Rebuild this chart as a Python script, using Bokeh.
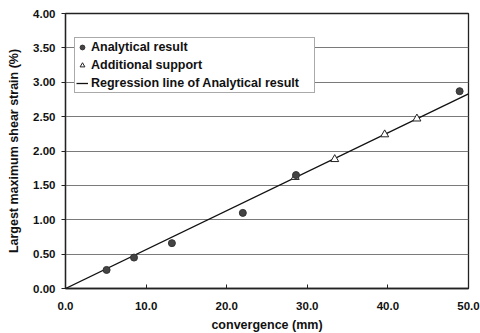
from bokeh.plotting import figure
from bokeh.models import Range1d, PrintfTickFormatter, FixedTicker, Legend, LegendItem
from bokeh.embed import file_html
from bokeh.resources import INLINE

analytical_x = [5.1, 8.5, 13.2, 22.0, 28.6, 48.9]
analytical_y = [0.27, 0.45, 0.66, 1.10, 1.65, 2.87]
support_x = [28.5, 33.4, 39.6, 43.6]
support_y = [1.62, 1.88, 2.24, 2.47]
regression_x = [0.0, 50.0]
regression_y = [0.0, 2.83]

FONT = "Liberation Sans"

p = figure(frame_width=403, frame_height=275, min_border_left=65, min_border_top=13,
           min_border_right=12, min_border_bottom=45,
           output_backend="svg", toolbar_location=None,
           x_range=Range1d(0, 50), y_range=Range1d(0, 4))
p.outline_line_color = "#222222"
p.outline_line_width = 1.3
p.background_fill_color = "white"
p.xgrid.grid_line_color = None
p.ygrid.grid_line_color = "#7a7a7a"
p.ygrid.grid_line_width = 1

p.xaxis.ticker = FixedTicker(ticks=[0, 10, 20, 30, 40, 50])
p.yaxis.ticker = FixedTicker(ticks=[0, 0.5, 1, 1.5, 2, 2.5, 3, 3.5, 4])
p.xaxis.formatter = PrintfTickFormatter(format="%.1f")
p.yaxis.formatter = PrintfTickFormatter(format="%.2f")
for ax in (p.xaxis[0], p.yaxis[0]):
    ax.axis_line_color = "#222222"
    ax.axis_line_width = 1.3
    ax.major_tick_line_color = "#222222"
    ax.minor_tick_line_color = None
    ax.major_label_text_font = FONT
    ax.major_label_text_font_size = "11.5px"
    ax.major_label_text_font_style = "bold"
    ax.major_label_text_color = "#111111"
    ax.axis_label_text_font = FONT
    ax.axis_label_text_font_size = "12.5px"
    ax.axis_label_text_font_style = "bold"
    ax.axis_label_text_color = "#111111"
p.xaxis.major_tick_in = 4
p.xaxis.major_tick_out = 0
p.yaxis.major_tick_in = 0
p.yaxis.major_tick_out = 4
p.xaxis.major_label_standoff = 13
p.yaxis.major_label_standoff = 6
p.xaxis.axis_label = "convergence (mm)"
p.yaxis.axis_label = "Largest maximum shear strain (%)"
p.xaxis.axis_label_standoff = 5
p.yaxis.axis_label_standoff = 9

r_line = p.line(regression_x, regression_y, line_color="#111111", line_width=1.3)
r_sup = p.scatter(support_x, support_y, marker="triangle", size=8,
                  fill_color="white", line_color="#222222", line_width=1)
r_ana = p.scatter(analytical_x, analytical_y, marker="circle", size=7,
                  fill_color="#444444", line_color="#333333")

legend = Legend(items=[
    LegendItem(label="Analytical result", renderers=[r_ana]),
    LegendItem(label="Additional support", renderers=[r_sup]),
    LegendItem(label="Regression line of Analytical result", renderers=[r_line]),
], location=(9, 195))
legend.label_text_font = FONT
legend.label_text_font_size = "12.5px"
legend.label_text_font_style = "bold"
legend.label_text_color = "#111111"
legend.border_line_color = "#555555"
legend.border_line_width = 1
legend.glyph_width = 12
legend.glyph_height = 16
legend.label_height = 16
legend.label_width = 222
legend.spacing = 2
legend.padding = 1
legend.margin = 0
legend.label_standoff = 3
legend.background_fill_alpha = 1
p.add_layout(legend, "center")

open("out.html", "w").write(file_html(p, INLINE))
